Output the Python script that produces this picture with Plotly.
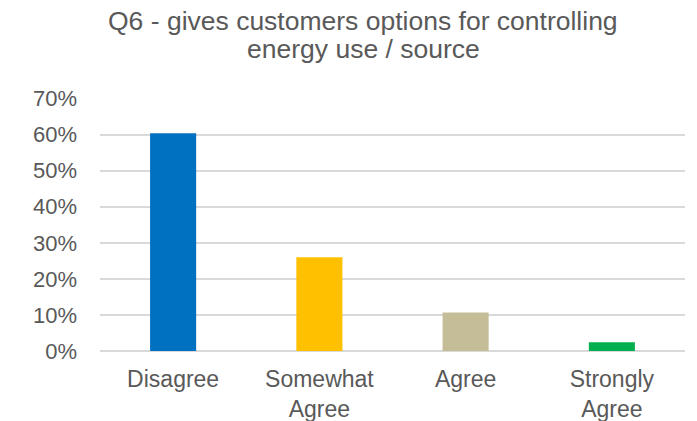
import plotly.graph_objects as go

categories = ["Disagree", "Somewhat<br>Agree", "Agree", "Strongly<br>Agree"]
values = [0.604, 0.260, 0.107, 0.024]
colors = ["#0070C0", "#FFC000", "#C4BD97", "#00B050"]
y_ticks = [0, 0.1, 0.2, 0.3, 0.4, 0.5, 0.6, 0.7]
y_tick_labels = ["0%", "10%", "20%", "30%", "40%", "50%", "60%", "70%"]
title_line1 = "Q6 - gives customers options for controlling"
title_line2 = "energy use / source"

fig = go.Figure(go.Bar(x=categories, y=values, marker=dict(color=colors, line=dict(width=0)),
                       width=0.315))

font_family = "Liberation Sans, Arial, sans-serif"
title_font = dict(family=font_family, size=26.5, color="#595959")
fig.update_layout(
    width=697, height=421,
    margin=dict(l=100, r=12, t=98, b=70, autoexpand=False),
    plot_bgcolor="white", paper_bgcolor="white",
    showlegend=False,
    bargap=0.685,
    annotations=[
        dict(text=title_line1, xref="paper", yref="paper", x=0.4496, y=1.304,
             xanchor="center", yanchor="middle", showarrow=False, font=title_font),
        dict(text=title_line2, xref="paper", yref="paper", x=0.4496, y=1.192,
             xanchor="center", yanchor="middle", showarrow=False, font=title_font),
    ],
)
fig.update_yaxes(range=[0, 0.7015], tickvals=y_ticks, ticktext=y_tick_labels,
                 showgrid=True, gridcolor="#D9D9D9", gridwidth=1.5,
                 zeroline=True, zerolinecolor="#D9D9D9", zerolinewidth=1.5,
                 showline=False, ticks="", ticklabelstandoff=22, automargin=False,
                 tickfont=dict(family=font_family, size=22, color="#595959"))
fig.update_xaxes(showgrid=False, showline=False, ticks="", ticklabelstandoff=12, automargin=False,
                 tickfont=dict(family=font_family, size=23, color="#595959"))

fig.write_html("out.html", config={"displayModeBar": False},
               post_script="document.body.style.margin='0';document.body.style.overflow='hidden';")
